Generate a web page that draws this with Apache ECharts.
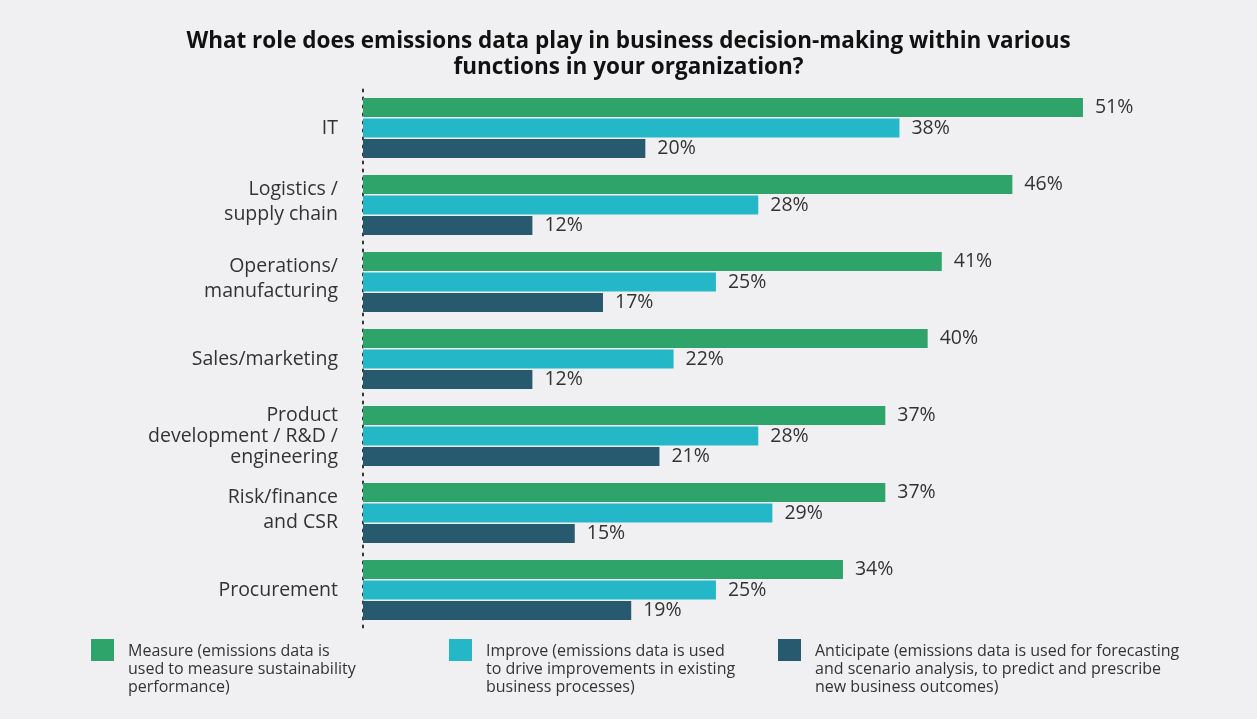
<!DOCTYPE html>
<html>
<head>
<meta charset="utf-8">
<script src="https://cdn.jsdelivr.net/npm/echarts@6/dist/echarts.min.js"></script>
<style>
html,body{margin:0;padding:0;background:#f0f0f2;}
#chart{width:1257px;height:719px;}
</style>
</head>
<body>
<div id="chart"></div>
<script>
const titleText = 'What role does emissions data play in business decision-making within various\nfunctions in your organization?';
const categories = ['IT', 'Logistics /\nsupply chain', 'Operations/\nmanufacturing', 'Sales/marketing', 'Product\ndevelopment / R&D /\nengineering', 'Risk/finance\nand CSR', 'Procurement'];
const seriesNames = ['Measure', 'Improve', 'Anticipate'];
const legendTexts = [
  'Measure (emissions data is\nused to measure sustainability\nperformance)',
  'Improve (emissions data is used\nto drive improvements in existing\nbusiness processes)',
  'Anticipate (emissions data is used for forecasting\nand scenario analysis, to predict and prescribe\nnew business outcomes)'
];
const measure = [51, 46, 41, 40, 37, 37, 34];
const improve = [38, 28, 25, 22, 28, 29, 25];
const anticipate = [20, 12, 17, 12, 21, 15, 19];
const colors = ['#2ea46b', '#23b7c7', '#275a6e'];
const FONT = '"Open Sans", sans-serif';

const chart = echarts.init(document.getElementById('chart'));
const values = [measure, improve, anticipate];
const legendX = [91, 449, 778];

const graphics = [];
legendX.forEach((x, i) => {
  graphics.push({ type: 'rect', left: x, top: 639, shape: { width: 23, height: 22 }, style: { fill: colors[i] } });
  graphics.push({ type: 'text', left: x + 37, top: 642, style: { text: legendTexts[i], font: '16px ' + FONT, fill: '#333', lineHeight: 18 } });
});

chart.setOption({
  backgroundColor: '#f0f0f2',
  title: {
    text: titleText, left: 'center', top: 24,
    textStyle: { fontFamily: FONT, fontSize: 22.5, fontWeight: 'bold', color: '#111', lineHeight: 26 }
  },
  grid: { left: 363, right: 47, top: 89.5, bottom: 90.5, containLabel: false },
  xAxis: { type: 'value', min: 0, max: 60, show: false },
  yAxis: {
    type: 'category', data: categories, inverse: true,
    axisLine: { show: true, lineStyle: { color: '#333', width: 2, type: [2, 6] } },
    axisTick: { show: false },
    axisLabel: {
      margin: 25, fontFamily: FONT, fontSize: 19.5, color: '#333', lineHeight: 25, align: 'right',
      formatter: v => {
        const lines = v.split('\n');
        if (lines.length > 2) return lines.map(s => '{t|' + s + '}').join('\n');
        if (lines.length === 2) return lines.map(s => '{d|' + s + '}').join('\n') + '\n{g|}';
        return v;
      },
      rich: {
        t: { fontFamily: FONT, fontSize: 19.5, color: '#333', lineHeight: 21 },
        d: { fontFamily: FONT, fontSize: 19.5, color: '#333', lineHeight: 25 },
        g: { fontSize: 1, lineHeight: 7 }
      }
    }
  },
  graphic: graphics,
  series: seriesNames.map((n, i) => ({
    name: n, type: 'bar', data: values[i], barWidth: 19, barGap: '8%',
    itemStyle: { color: colors[i] },
    label: { show: true, position: 'right', distance: 12, formatter: '{c}%', fontFamily: FONT, fontSize: 19.5, color: '#333' }
  }))
});
</script>
</body>
</html>
